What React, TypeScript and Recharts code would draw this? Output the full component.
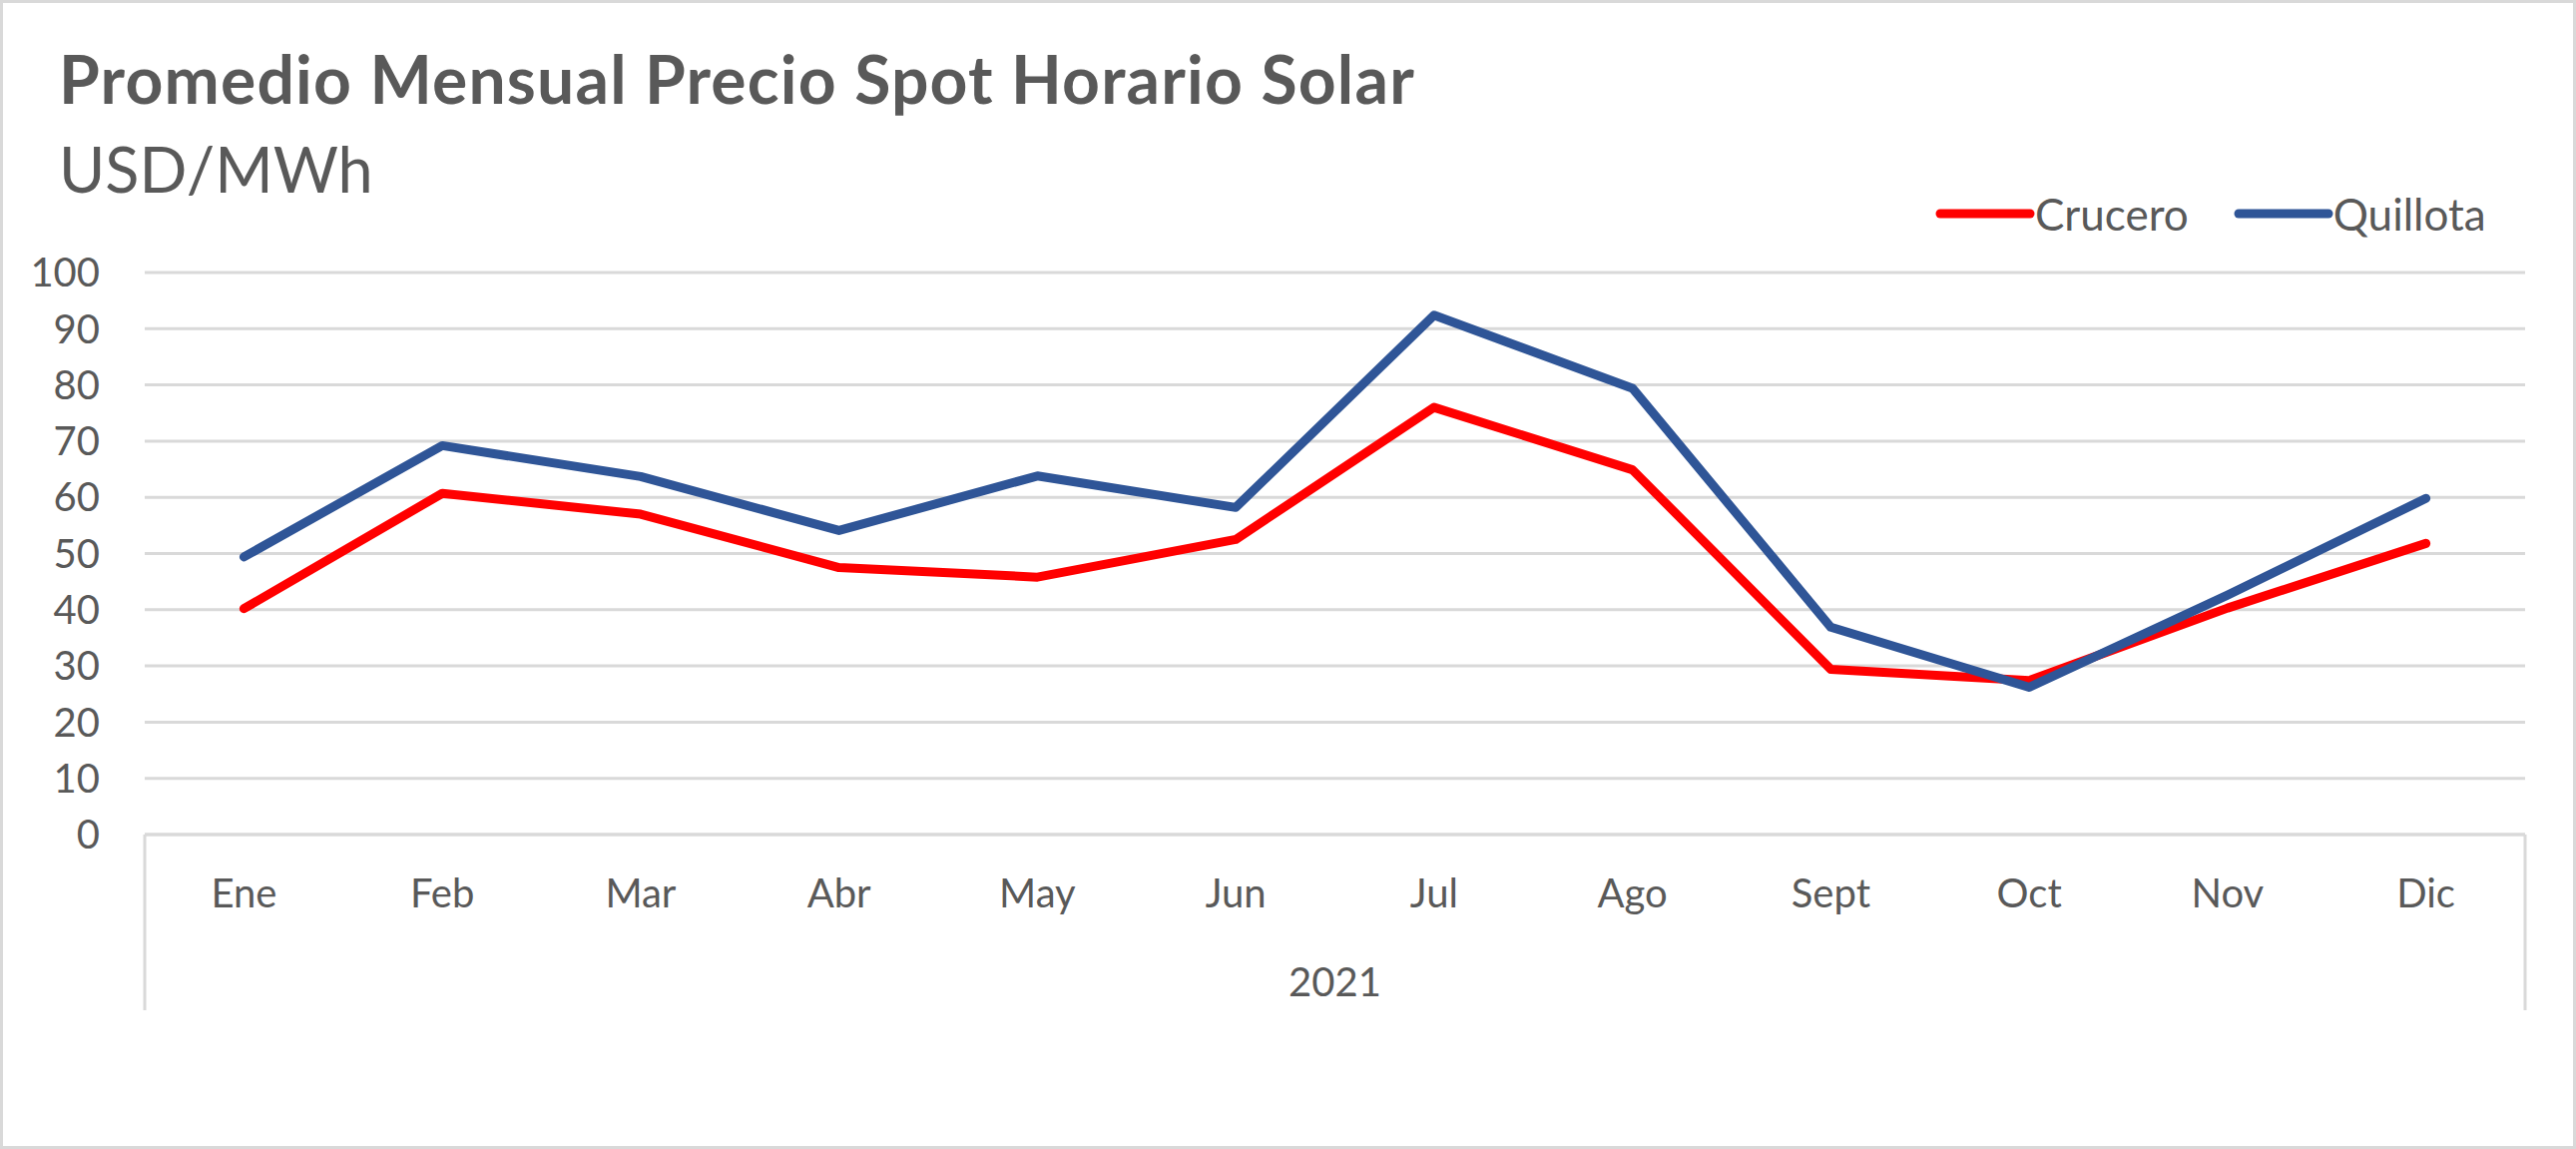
import React from 'react';
import { LineChart, Line, XAxis, YAxis, CartesianGrid, Legend } from 'recharts';

const months = ['Ene', 'Feb', 'Mar', 'Abr', 'May', 'Jun', 'Jul', 'Ago', 'Sept', 'Oct', 'Nov', 'Dic'];
const crucero = [40.2, 60.7, 57.0, 47.5, 45.8, 52.5, 76.0, 64.9, 29.4, 27.4, 40.3, 51.8];
const quillota = [49.4, 69.2, 63.7, 54.1, 63.8, 58.2, 92.4, 79.4, 36.9, 26.2, 42.6, 59.8];
const yTicks = [0, 10, 20, 30, 40, 50, 60, 70, 80, 90, 100];
const yearLabel = '2021';

const data = months.map((m, i) => ({ month: m, Crucero: crucero[i], Quillota: quillota[i] }));

const FONT = 'Lato, "Open Sans", sans-serif';
const TEXT = '#595959';
const GRID = '#d9d9d9';

const MonthTick = (props: any) => {
  const { x, y, payload } = props;
  return (
    <text x={x} y={y + 73} textAnchor="middle" fill={TEXT} fontSize={40} fontFamily={FONT}>
      {payload.value}
    </text>
  );
};

const YearLabel = (props: any) => {
  const { x, y, width } = props.viewBox;
  return (
    <g>
      <line x1={x} y1={y} x2={x} y2={y + 176} stroke={GRID} strokeWidth={3} />
      <line x1={x + width} y1={y} x2={x + width} y2={y + 176} stroke={GRID} strokeWidth={3} />
      <text x={x + width / 2} y={y + 162} textAnchor="middle" fill={TEXT} fontSize={40} fontFamily={FONT}>
        {yearLabel}
      </text>
    </g>
  );
};

const renderLegend = (props: any) => (
  <div style={{ display: 'flex', alignItems: 'center', fontFamily: FONT, fontSize: 44, color: TEXT, whiteSpace: 'nowrap' }}>
    {(props.payload || []).map((e: any) => (
      <div key={e.value} style={{ display: 'flex', alignItems: 'center', marginRight: 45 }}>
        <svg width={100} height={14}>
          <line x1={5} y1={7} x2={95} y2={7} stroke={e.color} strokeWidth={9} strokeLinecap="round" />
        </svg>
        <span>{e.value}</span>
      </div>
    ))}
  </div>
);

export default function App() {
  return (
    <div style={{ position: 'absolute', left: 0, top: 0, width: 2581, height: 1151, background: '#fff' }}>
      <LineChart width={2581} height={1151} data={data} margin={{ top: 273, right: 51, bottom: 0, left: 0 }}>
        <CartesianGrid vertical={false} stroke={GRID} strokeWidth={3} />
        <XAxis
          dataKey="month"
          scale="band"
          height={315}
          interval={0}
          tickLine={false}
          tickSize={0}
          tickMargin={0}
          axisLine={{ stroke: GRID, strokeWidth: 3 }}
          tick={<MonthTick />}
          label={{ content: (p: any) => <YearLabel {...p} /> }}
        />
        <YAxis
          domain={[0, 100]}
          ticks={yTicks}
          interval={0}
          width={145}
          axisLine={false}
          tickLine={false}
          tickSize={0}
          tickMargin={45}
          tick={{ fill: TEXT, fontSize: 40, fontFamily: FONT }}
        />
        <Legend
          layout="vertical"
          align="center"
          verticalAlign="middle"
          content={renderLegend}
          wrapperStyle={{ position: 'absolute', left: 1939, top: 188, width: 'auto', height: 'auto' }}
        />
        <Line
          dataKey="Crucero"
          stroke="#FF0000"
          strokeWidth={9}
          strokeLinejoin="round"
          strokeLinecap="round"
          dot={false}
          activeDot={false}
          isAnimationActive={false}
        />
        <Line
          dataKey="Quillota"
          stroke="#2F5597"
          strokeWidth={9}
          strokeLinejoin="round"
          strokeLinecap="round"
          dot={false}
          activeDot={false}
          isAnimationActive={false}
        />
      </LineChart>
      <svg width={2581} height={240} style={{ position: 'absolute', left: 0, top: 0, pointerEvents: 'none' }}>
        <text x={59} y={104} fill={TEXT} fontSize={66} fontWeight={700} fontFamily={FONT} letterSpacing={1.2}>
          Promedio Mensual Precio Spot Horario Solar
        </text>
        <text x={59} y={193} fill={TEXT} fontSize={63} fontFamily={FONT}>
          USD/MWh
        </text>
      </svg>
      <div
        style={{
          position: 'absolute',
          left: 0,
          top: 0,
          width: 2581,
          height: 1151,
          boxSizing: 'border-box',
          border: `3px solid ${GRID}`,
          pointerEvents: 'none',
        }}
      />
    </div>
  );
}
